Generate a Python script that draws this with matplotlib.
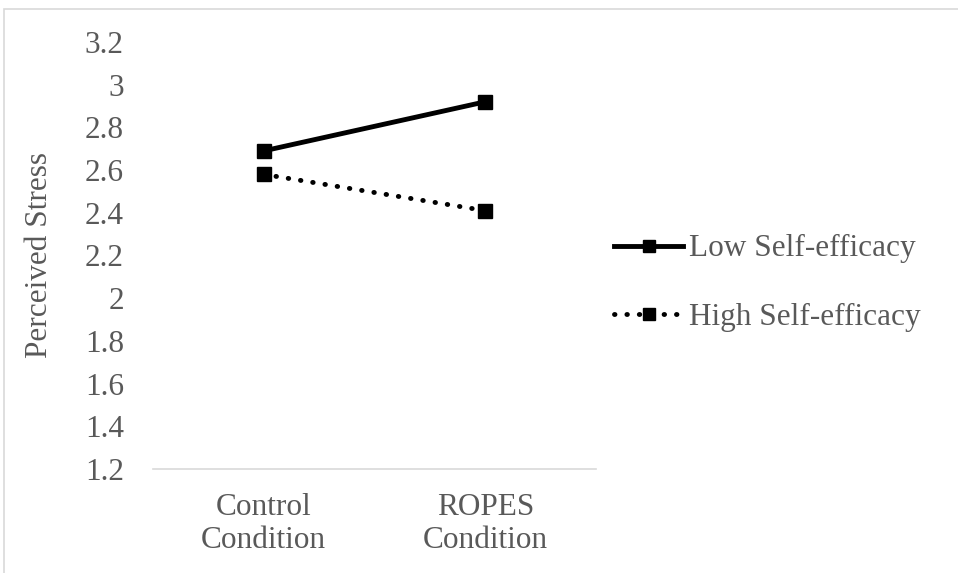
import matplotlib.pyplot as plt
from matplotlib.patches import Rectangle

conditions = ["Control\nCondition", "ROPES\nCondition"]
low_se = [2.69, 2.92]
high_se = [2.58, 2.41]
yticks = [1.2, 1.4, 1.6, 1.8, 2.0, 2.2, 2.4, 2.6, 2.8, 3.0, 3.2]
ytick_labels = ["1.2", "1.4", "1.6", "1.8", "2", "2.2", "2.4", "2.6", "2.8", "3", "3.2"]

plt.rcParams['font.family'] = ['Liberation Serif', 'DejaVu Serif']
grey = '#595959'
fs = 22.5

fig = plt.figure(figsize=(9.58, 5.73), dpi=100)
# chart border
fig.patches.append(Rectangle((4/958, -0.1), 1.2, 1 - 9/573 + 0.1, transform=fig.transFigure,
                             fill=False, edgecolor='#d9d9d9', linewidth=1.2))

ax = fig.add_axes([153/958, 1 - 469/573, (596 - 153)/958, (469 - 42)/573])
x = range(len(conditions))
ax.plot(x, low_se, color='black', linewidth=3.5, marker='s', markersize=10.5,
        label='Low Self-efficacy')
ax.plot(x, high_se, color='black', linewidth=3.5, linestyle=(0, (0.1, 2.45)),
        dash_capstyle='round', marker='s', markersize=10.5, label='High Self-efficacy')

ax.set_xlim(-0.5, 1.5)
ax.set_ylim(1.2, 3.2)
ax.set_yticks(yticks)
ax.set_yticklabels(ytick_labels)
ax.set_xticks(list(x))
ax.set_xticklabels(conditions, linespacing=1.2)
ax.tick_params(axis='y', length=0, pad=21, labelsize=fs, labelcolor=grey)
ax.tick_params(axis='x', length=0, pad=17, labelsize=fs, labelcolor=grey)
for s in ['top', 'right', 'left']:
    ax.spines[s].set_visible(False)
ax.spines['bottom'].set_color('#d9d9d9')
ax.spines['bottom'].set_linewidth(1.2)
ax.set_ylabel('Perceived Stress', fontsize=fs, color=grey, labelpad=22)

leg = ax.legend(loc='center left', bbox_to_anchor=(586/958, 1 - 283/573),
                bbox_transform=fig.transFigure, frameon=False, fontsize=fs,
                handlelength=2.2, handletextpad=0.2, labelspacing=1.25,
                markerscale=0.8)
for t in leg.get_texts():
    t.set_color(grey)

fig.savefig('out.png', dpi=100)
